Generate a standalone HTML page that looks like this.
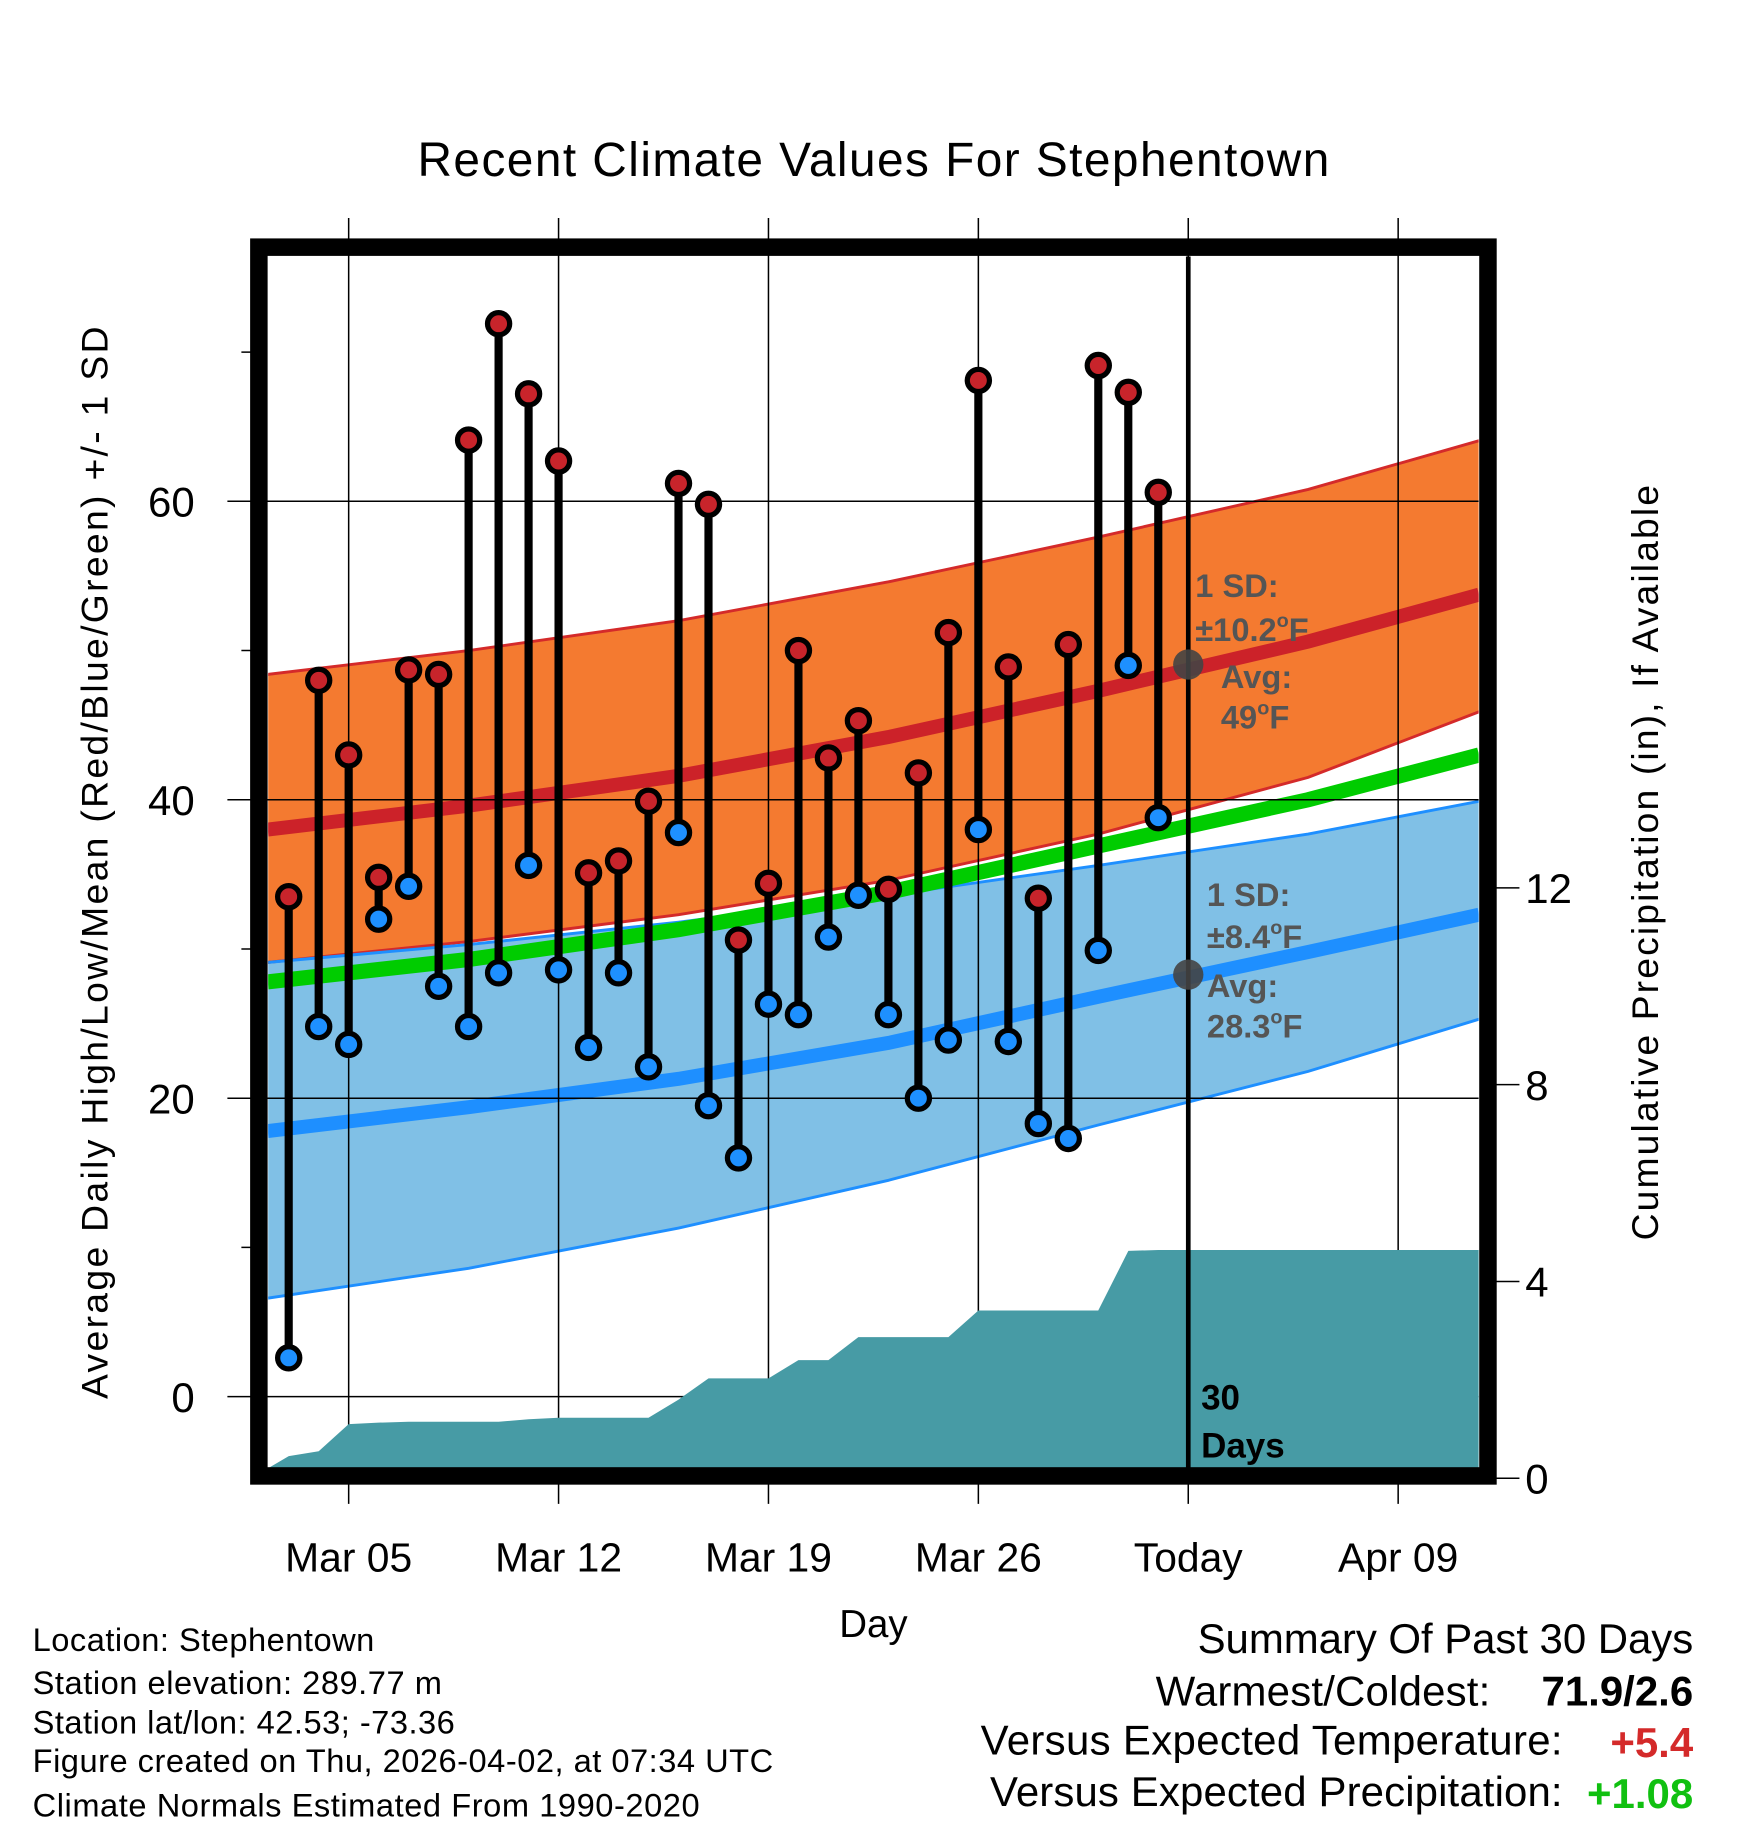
<!DOCTYPE html>
<html><head><meta charset="utf-8"><style>
html,body{margin:0;padding:0;background:#fff}
svg{display:block}
text{font-family:"Liberation Sans",sans-serif}
</style></head><body>
<svg id="chart" width="1748" height="1828" viewBox="0 0 1499 1568" preserveAspectRatio="none" xmlns="http://www.w3.org/2000/svg">
<defs><clipPath id="pc"><rect x="230" y="220" width="1038" height="1039"/></clipPath></defs>
<rect x="0" y="0" width="1499" height="1568" fill="#fff"/>
<text x="749" y="151" font-size="41" text-anchor="middle" textLength="782">Recent Climate Values For Stephentown</text>
<g id="bands" clip-path="url(#pc)"></g>
<g id="grid"></g>
<g id="precip" clip-path="url(#pc)"></g>
<line x1="1019" y1="220" x2="1019" y2="1260" stroke="#000" stroke-width="4"/>
<g id="marks"></g>
<g font-weight="bold" font-size="28" fill="#555">
<circle cx="1019" cy="570" r="13" fill="#444" opacity="0.9"/>
<circle cx="1019" cy="836" r="13" fill="#444" opacity="0.9"/>
<text x="1025" y="512">1 SD:</text>
<text x="1025" y="550">±10.2<tspan font-size="17" dy="-12">o</tspan><tspan dy="12">F</tspan></text>
<text x="1047" y="590">Avg:</text>
<text x="1047" y="625">49<tspan font-size="17" dy="-12">o</tspan><tspan dy="12">F</tspan></text>
<text x="1035" y="777">1 SD:</text>
<text x="1035" y="813">±8.4<tspan font-size="17" dy="-12">o</tspan><tspan dy="12">F</tspan></text>
<text x="1035" y="855">Avg:</text>
<text x="1035" y="890">28.3<tspan font-size="17" dy="-12">o</tspan><tspan dy="12">F</tspan></text>
</g>
<text x="1030" y="1209" font-size="30" font-weight="bold">30</text>
<text x="1030" y="1250" font-size="30" font-weight="bold">Days</text>
<rect x="222" y="212" width="1054" height="1054" fill="none" stroke="#000" stroke-width="15"/>
<text transform="translate(92,740) rotate(-90)" font-size="32" text-anchor="middle" textLength="920">Average Daily High/Low/Mean (Red/Blue/Green) +/- 1 SD</text>
<text transform="translate(1422,740) rotate(-90)" font-size="32" text-anchor="middle" textLength="648">Cumulative Precipitation (in), If Available</text>
<text x="749" y="1404" font-size="33" text-anchor="middle">Day</text>
<g font-size="28">
<text x="28" y="1416" textLength="293">Location: Stephentown</text>
<text x="28" y="1453" textLength="351">Station elevation: 289.77 m</text>
<text x="28" y="1487" textLength="362">Station lat/lon: 42.53; -73.36</text>
<text x="28" y="1520" textLength="635">Figure created on Thu, 2026-04-02, at 07:34 UTC</text>
<text x="28" y="1558" textLength="572">Climate Normals Estimated From 1990-2020</text>
</g>
<g font-size="36">
<text x="1027" y="1418" textLength="425">Summary Of Past 30 Days</text>
<text x="991" y="1463" textLength="287">Warmest/Coldest:</text>
<text x="1452" y="1463" text-anchor="end" font-weight="bold">71.9/2.6</text>
<text x="841" y="1505" textLength="499">Versus Expected Temperature:</text>
<text x="1452" y="1507" text-anchor="end" font-weight="bold" fill="#d42a2a">+5.4</text>
<text x="849" y="1549" textLength="491">Versus Expected Precipitation:</text>
<text x="1452" y="1551" text-anchor="end" font-weight="bold" fill="#10c010">+1.08</text>
</g>
</svg>
<script>
const days = [3,4,5,6,7,8,9,10,11,12,13,14,15,16,17,18,19,20,21,22,23,24,25,26,27,28,29,30,31,32];
const highs = [33.5,48,43,34.8,48.7,48.4,64.1,71.9,67.2,62.7,35.1,35.9,39.9,61.2,59.8,30.6,34.4,50,42.8,45.3,34,41.8,51.2,68.1,48.9,33.4,50.4,69.1,67.3,60.6];
const lows = [2.6,24.8,23.6,32,34.2,27.5,24.8,28.4,35.6,28.6,23.4,28.4,22.1,37.8,19.5,16,26.3,25.6,30.8,33.6,25.6,20,23.9,38,23.8,18.3,17.3,29.9,49,38.8];
const normDays = [2.3,9,16,23,30,37,42.7];
const normHigh = [38.0,39.6,41.6,44.2,47.3,50.6,53.75];
const normHighUpper = [48.4,50.0,52.0,54.6,57.6,60.8,64.06];
const normHighLower = [29.1,30.5,32.3,34.6,37.7,41.5,45.9];
const normLow = [17.8,19.4,21.3,23.7,26.8,29.8,32.3];
const normLowUpper = [29.1,30.3,31.8,33.6,35.6,37.7,39.9];
const normLowLower = [6.6,8.6,11.3,14.5,18.2,21.8,25.3];
const normMean = [27.8,29.3,31.3,33.8,36.9,40.0,43.0];
const precipDays = [2.3,3,4,5,6,7,8,9,10,11,12,13,14,15,16,17,18,19,20,21,22,23,24,25,26,27,28,29,30,31,32,42.7];
const precipCum = [0.2,0.45,0.55,1.1,1.13,1.15,1.15,1.15,1.15,1.2,1.23,1.23,1.23,1.23,1.6,2.03,2.03,2.03,2.4,2.4,2.87,2.87,2.87,2.87,3.41,3.41,3.41,3.41,3.41,4.62,4.64,4.64];
const yTicks = [0,20,40,60];
const yMinor = [10,30,50,70];
const pTicks = [0,4,8,12];
const xTickDays = [5,12,19,26,33,40];
const xTickLabels = ["Mar 05","Mar 12","Mar 19","Mar 26","Today","Apr 09"];

const NS="http://www.w3.org/2000/svg";
const X=d=>299+(d-5)*25.714;
const Y=t=>1198-t*12.8;
const YP=p=>1268-p*42.2;
function mk(parent,tag,attrs){const e=document.createElementNS(NS,tag);for(const k in attrs)e.setAttribute(k,attrs[k]);document.getElementById(parent).appendChild(e);return e;}
function pts(ds,vs,f){return ds.map((d,i)=>X(d).toFixed(1)+','+f(vs[i]).toFixed(1));}
const rev=a=>a.slice().reverse();

let e=mk('bands','polygon',{points:pts(normDays,normHighUpper,Y).concat(rev(pts(normDays,normHighLower,Y))).join(' '),fill:'#f47a30'});


e=mk('bands','polygon',{points:pts(normDays,normLowUpper,Y).concat(rev(pts(normDays,normLowLower,Y))).join(' '),fill:'#80c0e6'});


[[normHighUpper,'#d42a2a',2.5,'high-sd-upper'],[normHighLower,'#d42a2a',2.5,'high-sd-lower'],[normLowUpper,'#1e8fff',2.5,'low-sd-upper'],[normLowLower,'#1e8fff',2.5,'low-sd-lower'],[normHigh,'#cc2229',12,'normal-high-line'],[normLow,'#1e8fff',12,'normal-low-line'],[normMean,'#00cc00',13,'normal-mean-line']].forEach(s=>{
  const l=mk('bands','polyline',{points:pts(normDays,s[0],Y).join(' '),fill:'none',stroke:s[1],'stroke-width':s[2]});
  
  
});
xTickDays.forEach((d,i)=>{
  const l=mk('grid','line',{x1:X(d),x2:X(d),y1:187,y2:1290,stroke:'#000','stroke-width':1.3});
  
  
  const t=mk('grid','text',{x:X(d),y:1348,'font-size':35,'text-anchor':'middle'});
  t.textContent=xTickLabels[i];
  
  
});
yTicks.forEach(v=>{
  const l=mk('grid','line',{x1:195,x2:1268,y1:Y(v),y2:Y(v),stroke:'#000','stroke-width':1.3});
  
  
  const t=mk('grid','text',{x:167,y:Y(v)+13,'font-size':36,'text-anchor':'end'});
  t.textContent=v;
  
  
});
yMinor.forEach(v=>{
  const l=mk('grid','line',{x1:207,x2:222,y1:Y(v),y2:Y(v),stroke:'#000','stroke-width':1.3});
  
  
});
pTicks.forEach(v=>{
  const l=mk('grid','line',{x1:1276,x2:1303,y1:YP(v),y2:YP(v),stroke:'#000','stroke-width':1.3});
  
  
  const t=mk('grid','text',{x:1308,y:YP(v)+13,'font-size':36});
  t.textContent=v;
  
  
});
const pp=pts(precipDays,precipCum,YP);
e=mk('precip','polygon',{points:[X(precipDays[0]).toFixed(1)+',1262'].concat(pp).concat([X(precipDays[precipDays.length-1]).toFixed(1)+',1262']).join(' '),fill:'#479ba5'});


days.forEach((d,i)=>{
  const l=mk('marks','line',{x1:X(d),x2:X(d),y1:Y(highs[i]),y2:Y(lows[i]),stroke:'#000','stroke-width':7});
  
  
  const h=mk('marks','circle',{cx:X(d),cy:Y(highs[i]),r:9.5,fill:'#c8242b',stroke:'#000','stroke-width':4.5});
  
  
  const lo=mk('marks','circle',{cx:X(d),cy:Y(lows[i]),r:9.5,fill:'#1e90ff',stroke:'#000','stroke-width':4.5});
  
  
});
</script>
</body></html>
